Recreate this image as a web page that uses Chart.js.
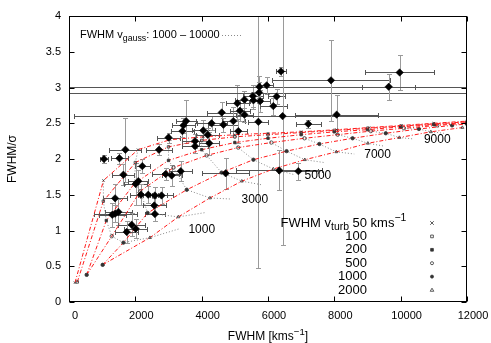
<!DOCTYPE html>
<html>
<head>
<meta charset="utf-8">
<script src="https://cdn.jsdelivr.net/npm/chart.js@4/dist/chart.umd.min.js"></script>
<style>
  html, body { margin: 0; padding: 0; background: #fff; }
</style>
</head>
<body>
<canvas id="c" width="491" height="343"></canvas>
<script>
// ------------------------------------------------------------
// FWHM/sigma vs FWHM: observed lines (black, with error bars) over a model
// grid. Red dash-dot curves = fixed v_turb, grey dotted = fixed v_gauss.
// ------------------------------------------------------------

const FONT = '"Liberation Sans", Arial, sans-serif';

// axis ticks
const X_TICKS = [0, 2000, 4000, 6000, 8000, 10000, 12000];
const Y_TICKS = [0, 0.5, 1, 1.5, 2, 2.5, 3, 3.5, 4];

// model grid, one pair of arrays per v_turb (points run over v_gauss)
const V_TURB = [50, 100, 200, 500, 1000, 2000];
const fwhm50   = [180, 1040, 2080, 3050, 4050, 5000, 6000, 7000, 8070, 9050, 10030, 11000, 12000];
const ratio50  = [0.27, 1.70, 2.13, 2.27, 2.31, 2.34, 2.36, 2.38, 2.41, 2.44, 2.47, 2.50, 2.53];
const fwhm100  = [250, 1035, 2000, 3000, 4000, 5000, 6000, 7000, 8000, 9000, 10000, 11000, 12000];
const ratio100 = [0.28, 1.41, 1.95, 2.17, 2.26, 2.31, 2.34, 2.37, 2.40, 2.43, 2.46, 2.49, 2.52];
const fwhm200  = [533, 1125, 1980, 3000, 4000, 5000, 6000, 7000, 8000, 9000, 10000, 11000, 12000];
const ratio200 = [0.38, 1.14, 1.66, 1.98, 2.13, 2.23, 2.29, 2.34, 2.38, 2.41, 2.45, 2.48, 2.51];
const fwhm500  = [533, 1290, 2150, 3150, 4150, 5100, 6100, 7100, 8100, 9100, 10100, 11100, 12000];
const ratio500 = [0.38, 0.92, 1.55, 1.88, 2.05, 2.16, 2.23, 2.29, 2.34, 2.39, 2.43, 2.47, 2.50];
const fwhm1000  = [1015, 1640, 2370, 3550, 4600, 5560, 6560, 7550, 8550, 9550, 10550, 11550, 12000];
const ratio1000 = [0.52, 0.83, 1.245, 1.57, 1.81, 1.99, 2.11, 2.21, 2.29, 2.36, 2.42, 2.47, 2.49];
const fwhm2000  = [1015, 2440, 3295, 4250, 5210, 6160, 7110, 8060, 9010, 9960, 10910, 11860];
const ratio2000 = [0.52, 0.90, 1.19, 1.455, 1.69, 1.86, 1.99, 2.10, 2.22, 2.30, 2.38, 2.44];

// fixed v_gauss lines: end of each grey line past the last grid point
const V_GAUSS = [1000, 2000, 3000, 4000, 5000, 6000, 7000, 8000, 9000, 10000];
const tailX = [3300, 4100, 4900, 5800, 6800, 7700, 8600, 9500, 10400, 11300];
const tailY = [1.02, 1.25, 1.44, 1.64, 1.78, 1.95, 2.07, 2.18, 2.28, 2.36];

// observed lines
const obsX = [1055, 1700, 1520, 1640, 2210, 2090, 2010, 1390, 2170, 2390,
              2590, 2790, 2570, 2590, 1490, 1390, 1305, 1890, 1740, 2010,
              2915, 3095, 3370, 2715, 3000, 3420, 3450, 3530, 3800, 3800,
              4050, 4230, 4180, 4300, 4605, 4655, 4955, 5105, 5155, 5290,
              5075, 5290, 5545, 5560, 5760, 5730, 5740, 5960, 6260, 6160,
              5710, 6440, 6390, 7900, 9970, 9640, 8070, 7215, 4725, 6340, 6915];
const obsY = [2.00, 2.13, 2.01, 1.78, 1.90, 1.69, 1.65, 1.45, 1.50, 1.50,
              1.49, 1.49, 1.35, 1.23, 1.26, 1.235, 1.22, 1.08, 0.98, 1.025,
              1.79, 1.77, 1.83, 2.13, 2.30, 2.39, 2.47, 2.53, 2.25, 2.18,
              2.40, 2.22, 2.34, 2.50, 2.65, 2.48, 2.53, 2.39, 2.675, 2.62,
              2.78, 2.83, 2.88, 2.82, 2.81, 2.93, 3.01, 3.03, 2.875, 2.74,
              2.52, 2.60, 3.225, 3.10, 3.21, 3.01, 2.62, 2.49, 1.80, 1.84, 1.83];
const obsXErr = [120, 480, 250, 330, 220, 300, 350, 350, 330, 300,
                 350, 350, 350, 300, 400, 650, 400, 400, 350, 350,
                 400, 300, 350, 400, 350, 350, 350, 300, 400, 400,
                 350, 300, 350, 450, 450, 450, 350, 250, 300, 250,
                 350, 300, 300, 250, 300, 8000, 8000, 200, 250, 400,
                 300, 6300, 150, 1780, 1040, 800, 1250, 380, 700, 1300, 600];
const obsYErr = [0.06, 0.45, 0.08, 0.15, 0.10, 0.15, 0.30, 0.20, 0.15, 0.12,
                 0.12, 0.12, 0.10, 0.10, 0.18, 0.12, 0.17, 0.16, 0.15, 0.13,
                 0.09, 0.15, 0.14, 0.08, 0.07, 0.08, 0.10, 0.30, 0.10, 0.10,
                 0.15, 0.16, 0.10, 0.10, 0.15, 0.10, 0.20, 0.17, 0.15, 0.10,
                 0.25, 0.12, 0.15, 0.12, 0.15, 0.15, 0.15, 0.12, 0.10, 0.12,
                 2.05, 1.80, 0.06, 0.57, 0.25, 0.18, 0.27, 0.06, 0.22, 0.28, 0.12];

const GRID = [
  [fwhm50, ratio50], [fwhm100, ratio100], [fwhm200, ratio200],
  [fwhm500, ratio500], [fwhm1000, ratio1000], [fwhm2000, ratio2000],
];
// marker per v_turb: style, filled
const MARKS = [["crossRot", false], ["rect", false], ["rect", true],
               ["circle", false], ["circle", true], ["triangle", false]];

const pts = (xs, ys) => xs.map((v, i) => ({ x: v, y: ys[i] }));

const datasets = [];
GRID.forEach(([xs, ys], k) => {
  const [style, filled] = MARKS[k];
  datasets.push({
    data: pts(xs, ys), showLine: true, order: 2,
    borderColor: "#ff1a1a", borderWidth: 1, borderDash: [4, 2, 1, 2],
    pointStyle: style, pointRadius: 1.7, pointBorderWidth: 0.8,
    pointBorderColor: "#333", pointBackgroundColor: filled ? "#333" : "rgba(0,0,0,0)",
  });
});
V_GAUSS.forEach((g, j) => {
  const i = j + 1;
  const line = GRID.map(([xs, ys]) => ({ x: xs[i], y: ys[i] }));
  line.push({ x: tailX[j], y: tailY[j] });
  datasets.push({
    data: line, showLine: true, order: 3,
    borderColor: "#8a8a8a", borderWidth: 1, borderDash: [1, 2], pointRadius: 0,
  });
});
datasets.push({
  data: pts(obsX, obsY), showLine: false, order: 0,
  pointStyle: "rectRot", pointRadius: 3.7, pointBorderWidth: 0.6,
  pointBackgroundColor: "#000", pointBorderColor: "#000",
});

// text with sub/superscript pieces
function richText(ctx, parts, x, y, size, align) {
  const small = size * 0.8;
  const fontOf = p => (p.s ? small : size) + "px " + FONT;
  let w = 0;
  for (const p of parts) { ctx.font = fontOf(p); w += ctx.measureText(p.t).width; }
  let cx = align === "right" ? x - w : align === "center" ? x - w / 2 : x;
  ctx.textAlign = "left";
  ctx.textBaseline = "middle";
  for (const p of parts) {
    ctx.font = fontOf(p);
    const dy = p.s === "sub" ? size * 0.35 : p.s === "sup" ? -size * 0.38 : 0;
    ctx.fillText(p.t, cx, y + dy);
    cx += ctx.measureText(p.t).width;
  }
}

function drawMark(ctx, style, filled, x, y, r) {
  ctx.beginPath();
  if (style === "crossRot") {
    ctx.moveTo(x - r, y - r); ctx.lineTo(x + r, y + r);
    ctx.moveTo(x - r, y + r); ctx.lineTo(x + r, y - r);
  } else if (style === "rect") {
    ctx.rect(x - r * 0.75, y - r * 0.75, r * 1.5, r * 1.5);
  } else if (style === "circle") {
    ctx.arc(x, y, r * 0.85, 0, Math.PI * 2);
  } else {
    ctx.moveTo(x, y - r); ctx.lineTo(x + r, y + r * 0.7); ctx.lineTo(x - r, y + r * 0.7); ctx.closePath();
  }
  if (filled) ctx.fill();
  ctx.stroke();
}

const whiteBg = {
  id: "whiteBg",
  beforeDraw(chart) {
    const { ctx, width, height } = chart;
    ctx.save(); ctx.fillStyle = "#fff"; ctx.fillRect(0, 0, width, height); ctx.restore();
  },
};

const errorBars = {
  id: "errorBars",
  beforeDatasetsDraw(chart) {
    const { ctx, chartArea: a, scales: { x, y } } = chart;
    ctx.save();
    ctx.beginPath(); ctx.rect(a.left, a.top, a.width, a.height); ctx.clip();
    ctx.lineWidth = 1;
    const cap = 2.5;
    obsX.forEach((vx, i) => {
      const px = Math.round(x.getPixelForValue(vx)) + 0.5;
      const py = Math.round(y.getPixelForValue(obsY[i])) + 0.5;
      const y0 = Math.round(y.getPixelForValue(obsY[i] - obsYErr[i])) + 0.5;
      const y1 = Math.round(y.getPixelForValue(obsY[i] + obsYErr[i])) + 0.5;
      const x0 = Math.round(x.getPixelForValue(vx - obsXErr[i])) + 0.5;
      const x1 = Math.round(x.getPixelForValue(vx + obsXErr[i])) + 0.5;
      ctx.strokeStyle = "#9a9a9a";
      ctx.beginPath();
      ctx.moveTo(px, y0); ctx.lineTo(px, y1);
      ctx.moveTo(px - cap, y0); ctx.lineTo(px + cap, y0);
      ctx.moveTo(px - cap, y1); ctx.lineTo(px + cap, y1);
      ctx.stroke();
      ctx.strokeStyle = "#555";
      ctx.beginPath();
      ctx.moveTo(x0, py); ctx.lineTo(x1, py);
      ctx.moveTo(x0, py - cap); ctx.lineTo(x0, py + cap);
      ctx.moveTo(x1, py - cap); ctx.lineTo(x1, py + cap);
      ctx.stroke();
    });
    ctx.restore();
  },
};

const frameAndText = {
  id: "frameAndText",
  afterDatasetsDraw(chart) {
    const { ctx, chartArea: a, scales: { x, y } } = chart;
    ctx.save();
    ctx.strokeStyle = "#000";
    ctx.lineWidth = 1;
    const L = a.left + 0.5, R = a.right - 0.5, T = a.top + 0.5, B = a.bottom - 0.5;
    ctx.strokeRect(L, T, R - L, B - T);
    ctx.beginPath();
    for (const v of X_TICKS) {
      const px = Math.round(x.getPixelForValue(v)) + 0.5;
      ctx.moveTo(px, B); ctx.lineTo(px, B - 5);
      ctx.moveTo(px, T); ctx.lineTo(px, T + 5);
    }
    for (const v of Y_TICKS) {
      const py = Math.round(y.getPixelForValue(v)) + 0.5;
      ctx.moveTo(L, py); ctx.lineTo(L + 5, py);
      ctx.moveTo(R, py); ctx.lineTo(R - 5, py);
    }
    ctx.stroke();

    ctx.fillStyle = "#000";
    // tick labels
    ctx.font = "11px " + FONT;
    ctx.textBaseline = "middle";
    ctx.textAlign = "center";
    for (const v of X_TICKS) ctx.fillText(String(v), x.getPixelForValue(v) + 6, a.bottom + 14);
    ctx.textAlign = "right";
    for (const v of Y_TICKS) ctx.fillText(String(v), a.left - 8, y.getPixelForValue(v));

    // axis titles
    richText(ctx, [{ t: "FWHM [kms" }, { t: "\u22121", s: "sup" }, { t: "]" }],
             (a.left + a.right) / 2, a.bottom + 35, 12, "center");
    ctx.save();
    ctx.translate(13, (a.top + a.bottom) / 2);
    ctx.rotate(-Math.PI / 2);
    ctx.font = "12px " + FONT;
    ctx.textAlign = "center";
    ctx.textBaseline = "middle";
    ctx.fillText("FWHM/\u03c3", 0, 0);
    ctx.restore();

    // v_gauss labels at the ends of the odd grey lines
    ctx.font = "12px " + FONT;
    ctx.textAlign = "left";
    ctx.textBaseline = "middle";
    V_GAUSS.forEach((g, j) => {
      if (j % 2 === 0)
        ctx.fillText(String(g), x.getPixelForValue(tailX[j]) + 10, y.getPixelForValue(tailY[j]) + 1);
    });

    // key: v_gauss lines
    richText(ctx, [{ t: "FWHM v" }, { t: "gauss", s: "sub" }, { t: ": 1000 \u2013 10000" }],
             a.left + 11, a.top + 19, 11, "left");
    ctx.strokeStyle = "#8a8a8a";
    ctx.setLineDash([1, 2]);
    ctx.beginPath();
    ctx.moveTo(a.left + 153, a.top + 19.5); ctx.lineTo(a.left + 173, a.top + 19.5);
    ctx.stroke();
    ctx.setLineDash([]);

    // key: v_turb markers
    const kx = a.left + 298, mx = a.left + 363;
    V_TURB.forEach((t, k) => {
      const ky = a.top + 207 + k * 13.4;
      ctx.fillStyle = "#000";
      if (k === 0) {
        richText(ctx, [{ t: "FWHM v" }, { t: "turb", s: "sub" }, { t: " " + t }], kx, ky, 13, "right");
        richText(ctx, [{ t: " kms" }, { t: "\u22121", s: "sup" }], kx, ky, 13, "left");
      } else {
        richText(ctx, [{ t: String(t) }], kx, ky, 13, "right");
      }
      ctx.strokeStyle = "#333";
      ctx.fillStyle = "#333";
      ctx.lineWidth = 0.8;
      drawMark(ctx, MARKS[k][0], MARKS[k][1], mx, ky, 1.8);
    });
    ctx.restore();
  },
};

new Chart(document.getElementById("c"), {
  type: "scatter",
  data: { datasets },
  options: {
    responsive: false, animation: false, devicePixelRatio: 1,
    layout: { padding: { left: 0, right: 24, top: 16, bottom: 0 } },
    plugins: { legend: { display: false }, tooltip: { enabled: false } },
    elements: { line: { tension: 0 } },
    scales: {
      x: {
        type: "linear", min: 0, max: 12000,
        afterFit: s => { s.height = 41; },
        ticks: { display: false, stepSize: 2000 },
        grid: { display: false, drawTicks: false }, border: { display: false },
      },
      y: {
        type: "linear", min: 0, max: 4,
        afterFit: s => { s.width = 69; },
        ticks: { display: false, stepSize: 0.5 },
        grid: { display: false, drawTicks: false }, border: { display: false },
      },
    },
  },
  plugins: [whiteBg, errorBars, frameAndText],
});
</script>
</body>
</html>
